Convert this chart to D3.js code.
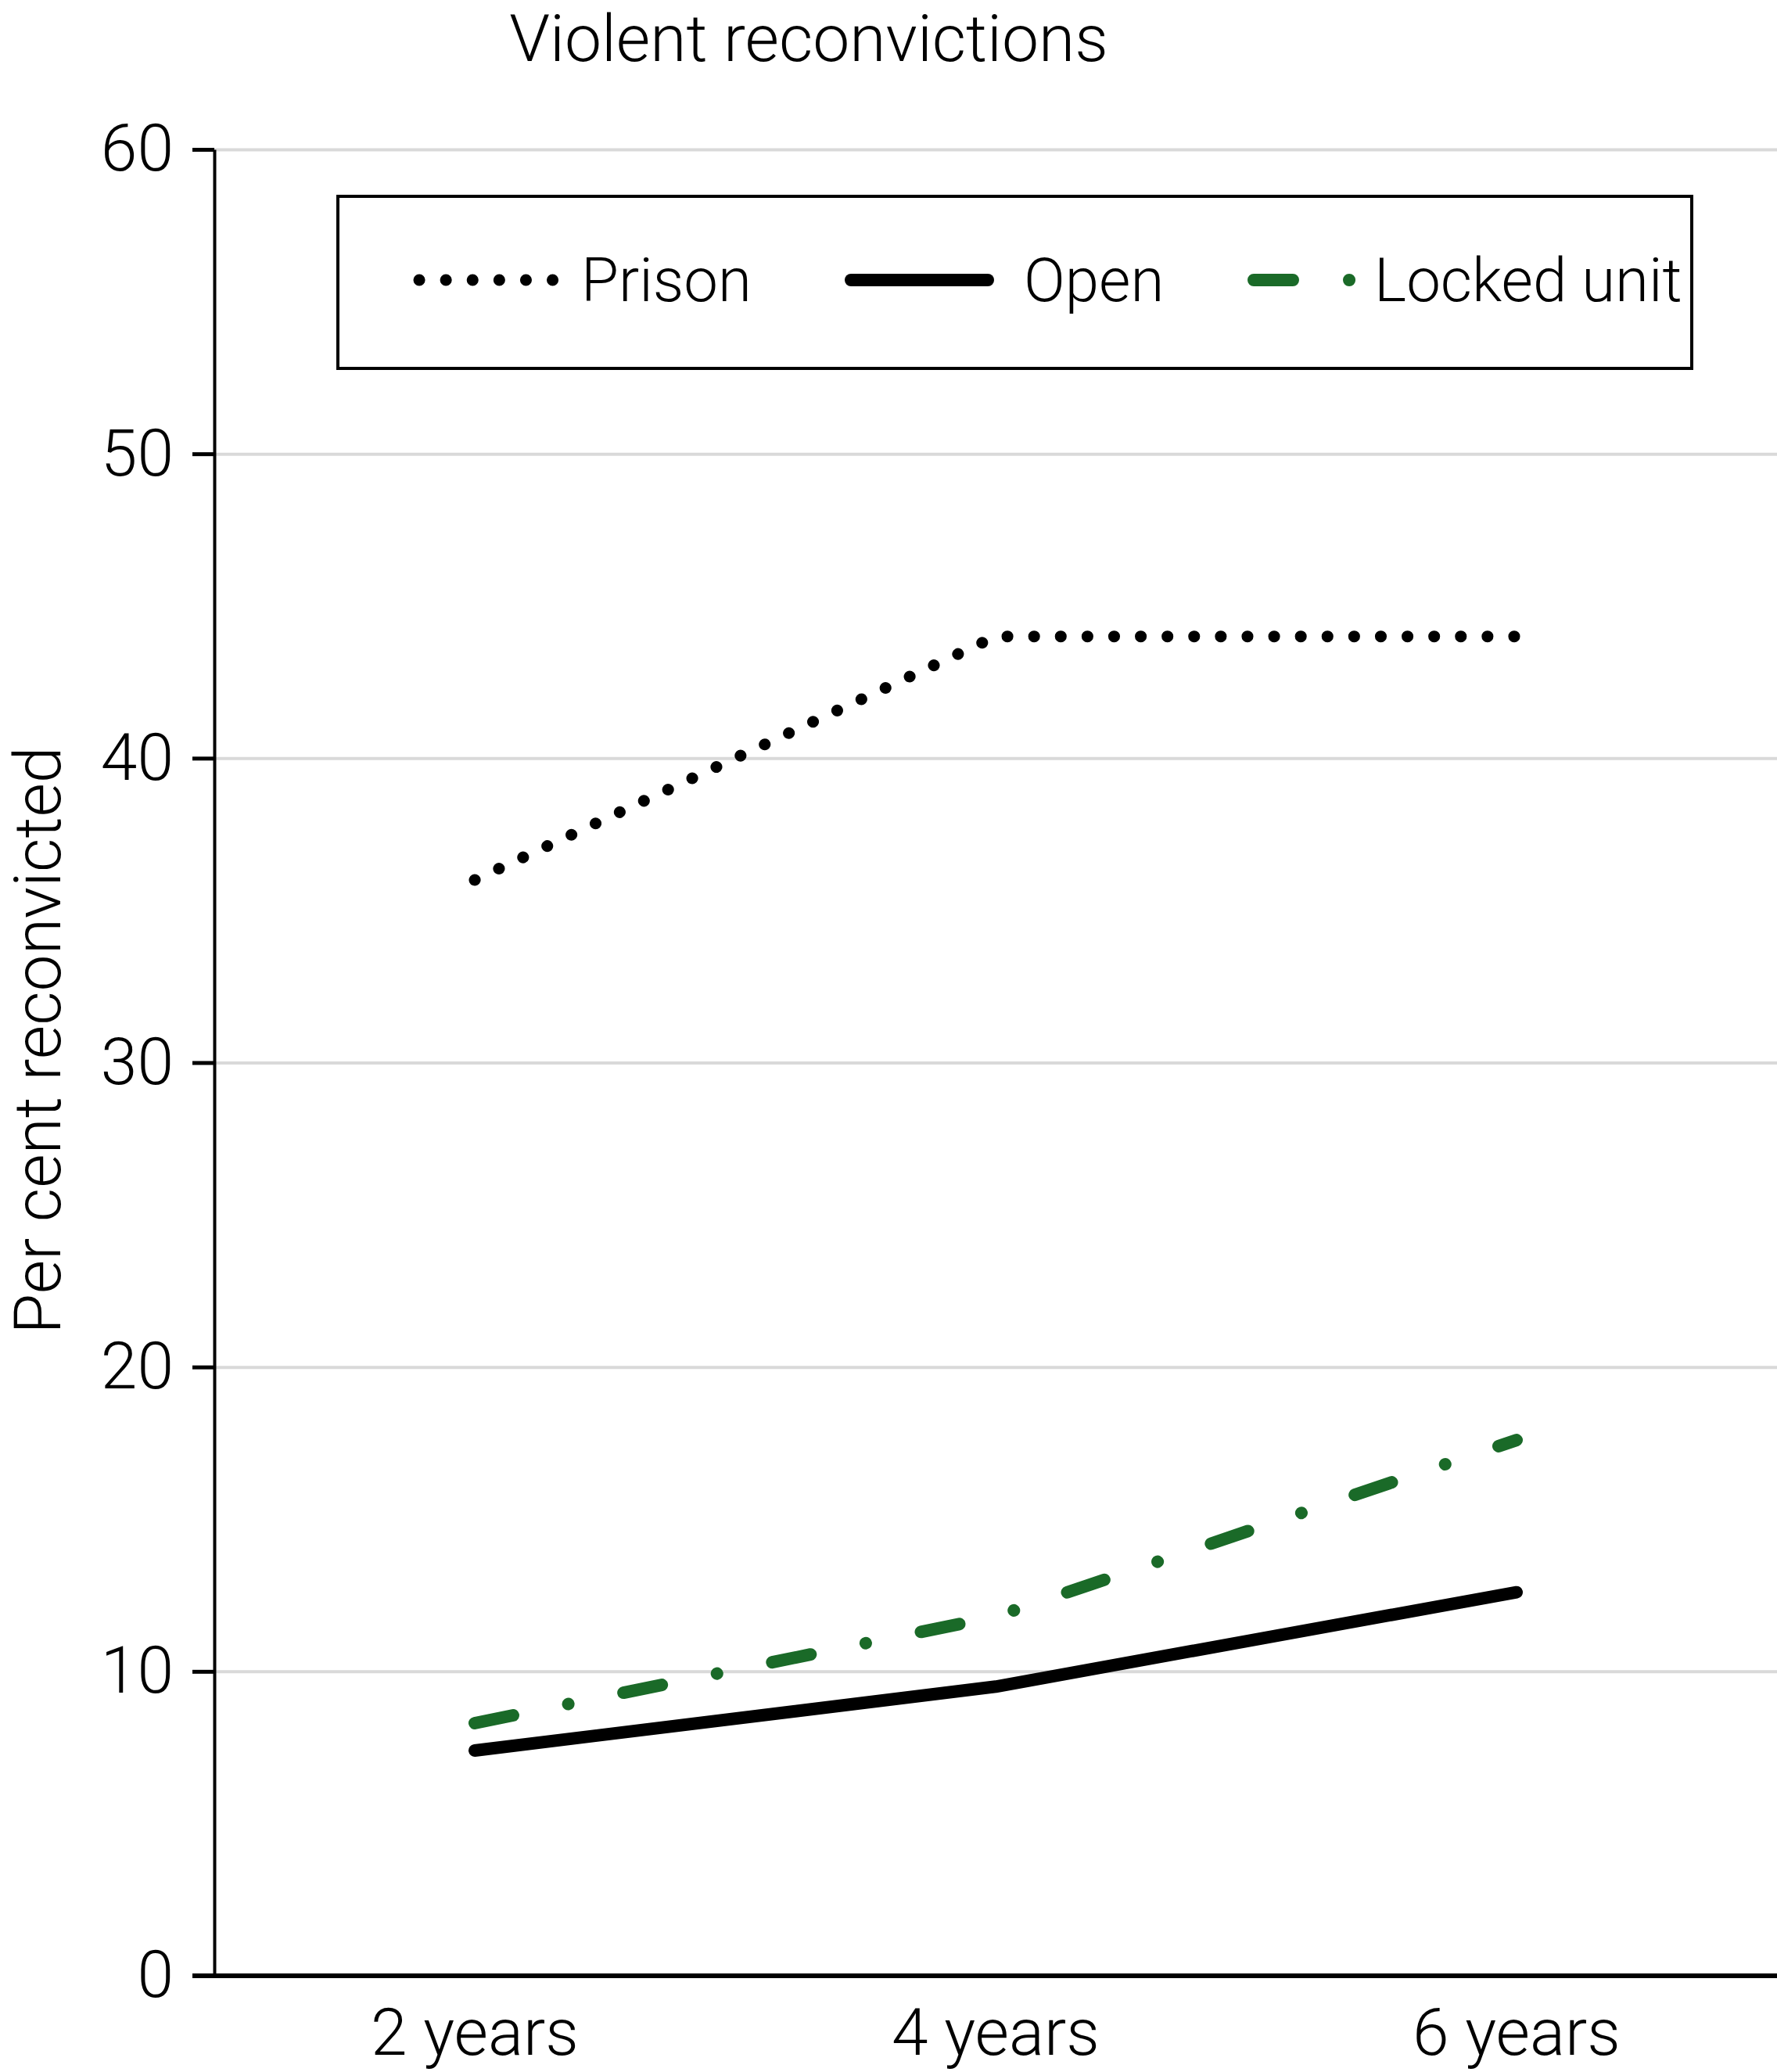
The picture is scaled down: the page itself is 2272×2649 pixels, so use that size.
<!DOCTYPE html>
<html>
<head>
<meta charset="utf-8">
<script src="https://cdn.jsdelivr.net/npm/d3@7"></script>
<style>
  body { margin: 0; background: #fff; }
  text { font-family: Roboto, "Liberation Sans", sans-serif; font-weight: 300; fill: #000; }
</style>
</head>
<body>
<div id="chart"></div>
<script>
// values
var years = ["2 years", "4 years", "6 years"];
var prison = [36, 44, 44];
var open = [7.4, 9.5, 12.6];
var locked = [8.3, 11.8, 17.6];
var yTicks = [0, 10, 20, 30, 40, 50, 60];
var seriesNames = ["Prison", "Open", "Locked unit"];

var width = 2272, height = 2649;
var margin = {top: 191, right: 0, bottom: 123, left: 274};
var fontSize = 84;

var svg = d3.select("#chart")
    .append("svg")
    .attr("width", width)
    .attr("height", height)
    .style("font-size", fontSize + "px");

var x = d3.scalePoint()
    .domain(years)
    .range([margin.left, width - margin.right])
    .padding(0.5);
var y = d3.scaleLinear()
    .domain([0, 60])
    .range([height - margin.bottom, margin.top]);

// grid lines
svg.append("g")
    .attr("transform", `translate(${margin.left},0)`)
    .call(d3.axisLeft(y).tickValues(yTicks).tickSize(-(width - margin.left - margin.right)).tickFormat(""))
    .call(g => g.select(".domain").remove())
    .call(g => g.selectAll(".tick line").attr("stroke", "#d9d9d9").attr("stroke-width", 4));

// y axis with ticks and labels
var yAxis = svg.append("g")
    .attr("transform", `translate(${margin.left},0)`)
    .call(d3.axisLeft(y).tickValues(yTicks).tickSize(28).tickPadding(24).tickSizeOuter(0));
yAxis.select(".domain").attr("stroke", "#000").attr("stroke-width", 4);
yAxis.selectAll(".tick line").attr("stroke", "#000").attr("stroke-width", 5);
yAxis.selectAll(".tick text")
    .attr("font-size", fontSize)
    .attr("font-family", null);

// x axis baseline
svg.append("line")
    .attr("x1", margin.left - 28)
    .attr("x2", width)
    .attr("y1", y(0))
    .attr("y2", y(0))
    .attr("stroke", "#000")
    .attr("stroke-width", 6);

svg.append("g")
    .selectAll("text")
    .data(years)
    .enter()
    .append("text")
    .attr("x", d => x(d))
    .attr("y", height - 22)
    .attr("text-anchor", "middle")
    .text(d => d);

// titles
svg.append("text")
    .attr("x", 1034)
    .attr("y", 78)
    .attr("text-anchor", "middle")
    .text("Violent reconvictions");

svg.append("text")
    .attr("transform", "translate(77,1330)rotate(-90)")
    .attr("text-anchor", "middle")
    .text("Per cent reconvicted");

// series
var styles = [
    {color: "#000", width: 15, dash: "0.1,34"},
    {color: "#000", width: 16, dash: null},
    {color: "#1a6a28", width: 16, dash: "50,72,0.1,72"}
];
var allSeries = [prison, open, locked];

var line = d3.line()
    .x((d, i) => x(years[i]))
    .y(d => y(d));

svg.append("g")
    .selectAll("path")
    .data(allSeries)
    .enter()
    .append("path")
    .attr("d", line)
    .attr("fill", "none")
    .attr("stroke", (d, i) => styles[i].color)
    .attr("stroke-width", (d, i) => styles[i].width)
    .attr("stroke-dasharray", (d, i) => styles[i].dash)
    .attr("stroke-linecap", "round")
    .attr("stroke-linejoin", "round");

// legend
var legend = svg.append("g");
legend.append("rect")
    .attr("x", 432)
    .attr("y", 251)
    .attr("width", 1731)
    .attr("height", 220)
    .attr("fill", "#fff")
    .attr("stroke", "#000")
    .attr("stroke-width", 4);

var legendItems = [
    {x1: 536, x2: 712, tx: 743},
    {x1: 1088, x2: 1263, tx: 1309},
    {x1: 1603, x2: 1735, tx: 1757}
];
var item = legend.selectAll("g.item")
    .data(seriesNames)
    .enter()
    .append("g")
    .attr("class", "item");
item.append("line")
    .attr("x1", (d, i) => legendItems[i].x1)
    .attr("x2", (d, i) => legendItems[i].x2)
    .attr("y1", 358)
    .attr("y2", 358)
    .attr("stroke", (d, i) => styles[i].color)
    .attr("stroke-width", (d, i) => styles[i].width)
    .attr("stroke-dasharray", (d, i) => styles[i].dash)
    .attr("stroke-linecap", "round");
item.append("text")
    .attr("x", (d, i) => legendItems[i].tx)
    .attr("y", 385)
    .attr("font-size", 78)
    .text(d => d);
</script>
</body>
</html>
